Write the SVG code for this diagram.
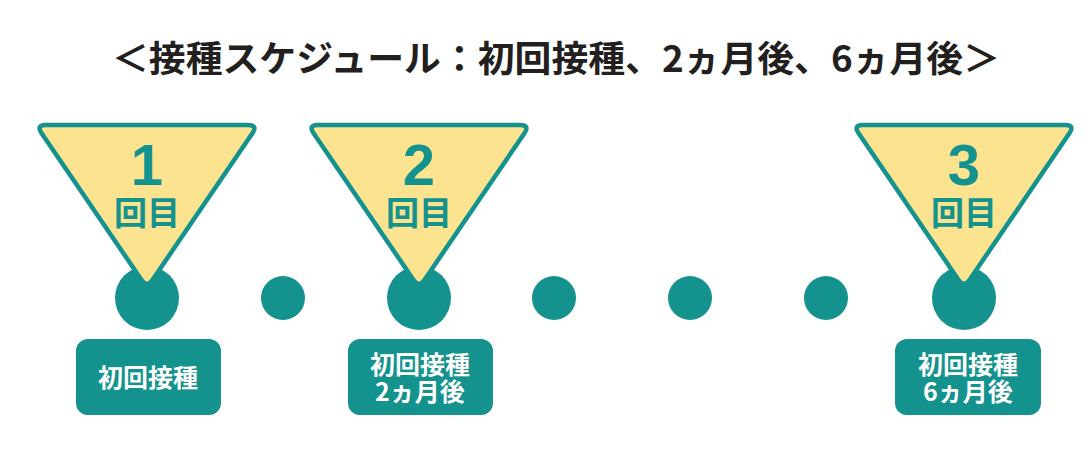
<svg xmlns="http://www.w3.org/2000/svg" width="1090" height="452" viewBox="0 0 1090 452">
<style>
.tri{fill:#fbe390;stroke:#14928e;stroke-width:4.5;stroke-linejoin:round}
.teal{fill:#14928e}
.mark{fill:#14928e;text-anchor:middle}
.num{font-family:"Liberation Sans",Arial,sans-serif;font-weight:bold;font-size:58px}
.kai{font-family:"Noto Sans CJK JP",sans-serif;font-weight:bold;font-size:33px}
.lbl{font-family:"Noto Sans CJK JP",sans-serif;font-weight:bold;font-size:25px;fill:#ffffff;text-anchor:middle}
.title{font-family:"Noto Sans CJK JP",sans-serif;font-weight:bold;font-size:36px;fill:#231f1f}
</style>
<defs>
<path id="tri" d="M -101 125 L 101 125 Q 111 125 105.4 133.3 L 5.6 279.7 Q 0 288 -5.6 279.7 L -105.4 133.3 Q -111 125 -101 125 Z"/>
</defs>
<rect width="1090" height="452" fill="#ffffff"/>
<text class="title" x="112" y="72" textLength="888" lengthAdjust="spacingAndGlyphs">＜接種スケジュール：初回接種、2ヵ月後、6ヵ月後＞</text>
<g id="dots">
<circle class="teal" cx="283" cy="298" r="22"/>
<circle class="teal" cx="554" cy="298" r="22"/>
<circle class="teal" cx="690" cy="298" r="22"/>
<circle class="teal" cx="826" cy="298" r="22"/>
</g>
<g id="dose1">
<circle class="teal" cx="147" cy="298" r="32"/>
<use href="#tri" class="tri" transform="translate(147,0)"/>
<text class="mark"><tspan class="num" x="147" y="185">1</tspan><tspan class="kai" x="147" y="225">回目</tspan></text>
<rect class="teal" x="76" y="339" width="145" height="76" rx="12"/>
<text class="lbl" x="148" y="387">初回接種</text>
</g>
<g id="dose2">
<circle class="teal" cx="419" cy="298" r="32"/>
<use href="#tri" class="tri" transform="translate(419,0)"/>
<text class="mark"><tspan class="num" x="419" y="185">2</tspan><tspan class="kai" x="419" y="225">回目</tspan></text>
<rect class="teal" x="348" y="339" width="145" height="76" rx="12"/>
<text class="lbl"><tspan x="420" y="374">初回接種</tspan><tspan x="420" y="401">2ヵ月後</tspan></text>
</g>
<g id="dose3">
<circle class="teal" cx="964" cy="298" r="32"/>
<use href="#tri" class="tri" transform="translate(964,0)"/>
<text class="mark"><tspan class="num" x="964" y="185">3</tspan><tspan class="kai" x="964" y="225">回目</tspan></text>
<rect class="teal" x="895" y="339" width="146" height="76" rx="12"/>
<text class="lbl"><tspan x="968" y="374">初回接種</tspan><tspan x="968" y="401">6ヵ月後</tspan></text>
</g>
</svg>
